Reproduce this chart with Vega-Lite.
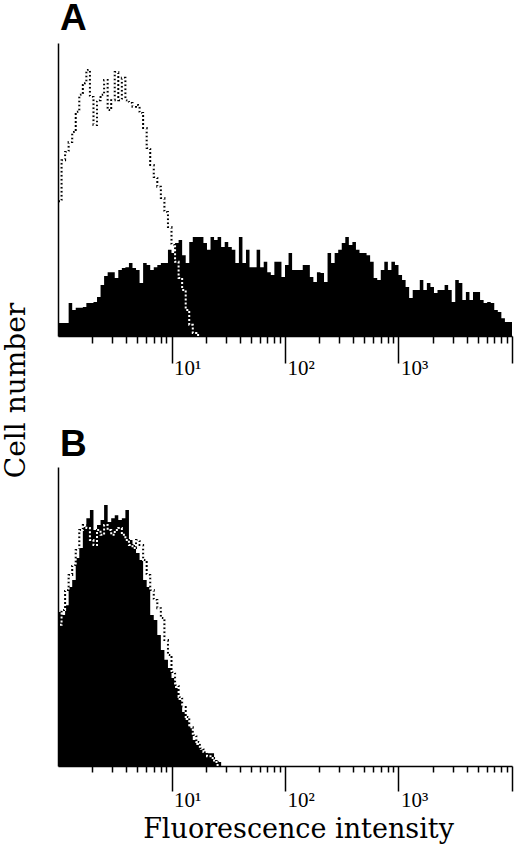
{
  "$schema": "https://vega.github.io/schema/vega-lite/v6.json",
  "background": "white",
  "padding": {"left": 2, "top": 0, "right": 8, "bottom": 10},
  "bounds": "flush",
  "spacing": 131,
  "config": {
    "view": {"stroke": null},
    "axis": {"domainColor": "black", "domainWidth": 1.5, "tickColor": "black", "tickWidth": 1.5, "grid": false, "labelColor": "black", "titleColor": "black"}
  },
  "datasets": {
    "aF": [
      {"x":1,"y":4.4},{"x":1.075,"y":4.4},{"x":1.155,"y":4.4},{"x":1.241,"y":11.3},{"x":1.334,"y":8.9},{"x":1.433,"y":9.6},{"x":1.54,"y":9.6},{"x":1.655,"y":9.9},
      {"x":1.778,"y":11.3},{"x":1.911,"y":11.3},{"x":2.054,"y":11.6},{"x":2.207,"y":13.3},{"x":2.371,"y":17.4},{"x":2.548,"y":20.5},{"x":2.738,"y":21.8},{"x":2.943,"y":21.8},
      {"x":3.162,"y":19.8},{"x":3.398,"y":22.5},{"x":3.652,"y":23.2},{"x":3.924,"y":23.5},{"x":4.217,"y":24.9},{"x":4.532,"y":23.2},{"x":4.87,"y":22.5},{"x":5.233,"y":18.1},
      {"x":5.623,"y":24.9},{"x":6.043,"y":24.2},{"x":6.494,"y":22.5},{"x":6.978,"y":23.5},{"x":7.499,"y":24.2},{"x":8.058,"y":24.9},{"x":8.66,"y":24.9},{"x":9.306,"y":29.4},
      {"x":10,"y":28.3},{"x":10.75,"y":31.7},{"x":11.55,"y":32.8},{"x":12.41,"y":27.6},{"x":13.34,"y":24.9},{"x":14.33,"y":32.1},{"x":15.4,"y":33.8},{"x":16.55,"y":33.8},
      {"x":17.78,"y":33.8},{"x":19.11,"y":31.7},{"x":20.54,"y":29.4},{"x":22.07,"y":33.8},{"x":23.71,"y":32.8},{"x":25.48,"y":33.8},{"x":27.38,"y":30.4},{"x":29.43,"y":32.1},
      {"x":31.62,"y":30.4},{"x":33.98,"y":29.4},{"x":36.52,"y":24.9},{"x":39.24,"y":33.8},{"x":42.17,"y":24.9},{"x":45.32,"y":29.4},{"x":48.7,"y":23.5},{"x":52.33,"y":23.5},
      {"x":56.23,"y":29.4},{"x":60.43,"y":23.5},{"x":64.94,"y":25.3},{"x":69.78,"y":21.8},{"x":74.99,"y":20.8},{"x":80.58,"y":25.3},{"x":86.6,"y":25.3},{"x":93.06,"y":20.1},
      {"x":100,"y":24.2},{"x":107.5,"y":28.3},{"x":115.5,"y":22.5},{"x":124.1,"y":22.5},{"x":133.4,"y":22.5},{"x":143.3,"y":24.2},{"x":154,"y":24.2},{"x":165.5,"y":20.1},
      {"x":177.8,"y":18.4},{"x":191.1,"y":21.8},{"x":205.4,"y":21.5},{"x":220.7,"y":18.4},{"x":237.1,"y":28.3},{"x":254.8,"y":24.9},{"x":273.8,"y":28.3},{"x":294.3,"y":29.4},
      {"x":316.2,"y":31.7},{"x":339.8,"y":33.8},{"x":365.2,"y":31.1},{"x":392.4,"y":32.1},{"x":421.7,"y":29.4},{"x":453.2,"y":28.3},{"x":487,"y":28.3},{"x":523.3,"y":27.6},
      {"x":562.3,"y":25.3},{"x":604.3,"y":19.8},{"x":649.4,"y":19.1},{"x":697.8,"y":22.5},{"x":749.9,"y":25.3},{"x":805.8,"y":22.5},{"x":866,"y":25.3},{"x":930.6,"y":24.2},
      {"x":1000,"y":20.8},{"x":1075,"y":19.1},{"x":1155,"y":16.7},{"x":1241,"y":13.0},{"x":1334,"y":15.7},{"x":1433,"y":15.7},{"x":1540,"y":19.1},{"x":1655,"y":15.7},
      {"x":1778,"y":18.1},{"x":1911,"y":16.7},{"x":2054,"y":14.7},{"x":2207,"y":15.7},{"x":2371,"y":15.7},{"x":2548,"y":17.4},{"x":2738,"y":15.7},{"x":2943,"y":11.6},
      {"x":3162,"y":19.1},{"x":3398,"y":18.1},{"x":3652,"y":12.3},{"x":3924,"y":15.0},{"x":4217,"y":12.3},{"x":4532,"y":15.0},{"x":4870,"y":15.0},{"x":5233,"y":12.3},
      {"x":5623,"y":11.3},{"x":6043,"y":11.6},{"x":6494,"y":11.3},{"x":6978,"y":8.9},{"x":7499,"y":8.2},{"x":8058,"y":6.1},{"x":8660,"y":4.8},{"x":9306,"y":4.8},
      {"x":10000,"y":0}
    ],
    "aC": [
      {"x":1,"y":46},{"x":1.075,"y":60},{"x":1.155,"y":62.8},{"x":1.241,"y":66.2},{"x":1.334,"y":69.6},{"x":1.433,"y":76.5},{"x":1.54,"y":82.3},{"x":1.655,"y":86.3},
      {"x":1.778,"y":90.8},{"x":1.911,"y":81.6},{"x":2.054,"y":72.0},{"x":2.207,"y":80.5},{"x":2.371,"y":82.3},{"x":2.548,"y":87.4},{"x":2.738,"y":77.1},{"x":2.943,"y":80.5},
      {"x":3.162,"y":90.1},{"x":3.398,"y":80.5},{"x":3.652,"y":88.1},{"x":3.924,"y":80.5},{"x":4.217,"y":79.5},{"x":4.532,"y":78.2},{"x":4.87,"y":78.8},{"x":5.233,"y":76.1},
      {"x":5.623,"y":71.0},{"x":6.043,"y":64.2},{"x":6.494,"y":58.4},{"x":6.978,"y":54.3},{"x":7.499,"y":50.9},{"x":8.058,"y":47.1},{"x":8.66,"y":42.3},{"x":9.306,"y":37.2},
      {"x":10,"y":31.1},{"x":10.75,"y":25.3},{"x":11.55,"y":19.8},{"x":12.41,"y":15.7},{"x":13.34,"y":8.9},{"x":14.33,"y":3.8},{"x":15.4,"y":1.0},{"x":16.55,"y":0.3},
      {"x":17.78,"y":0}
    ],
    "bF": [
      {"x":1,"y":51.5},{"x":1.075,"y":50.5},{"x":1.155,"y":53.8},{"x":1.241,"y":59.9},{"x":1.334,"y":62.2},{"x":1.433,"y":69.6},{"x":1.54,"y":72.9},{"x":1.655,"y":79.9},
      {"x":1.778,"y":82.9},{"x":1.911,"y":85.6},{"x":2.054,"y":78.9},{"x":2.207,"y":80.6},{"x":2.371,"y":82.3},{"x":2.548,"y":87.3},{"x":2.738,"y":81.6},{"x":2.943,"y":82.9},
      {"x":3.162,"y":83.9},{"x":3.398,"y":82.3},{"x":3.652,"y":82.9},{"x":3.924,"y":85.6},{"x":4.217,"y":75.6},{"x":4.532,"y":73.9},{"x":4.87,"y":71.2},{"x":5.233,"y":68.9},
      {"x":5.623,"y":62.2},{"x":6.043,"y":59.9},{"x":6.494,"y":50.5},{"x":6.978,"y":48.8},{"x":7.499,"y":43.8},{"x":8.058,"y":38.8},{"x":8.66,"y":35.5},{"x":9.306,"y":32.8},
      {"x":10,"y":29.4},{"x":10.75,"y":26.1},{"x":11.55,"y":22.1},{"x":12.41,"y":18.1},{"x":13.34,"y":15.4},{"x":14.33,"y":13.0},{"x":15.4,"y":8.7},{"x":16.55,"y":7.0},
      {"x":17.78,"y":5.4},{"x":19.11,"y":4.7},{"x":20.54,"y":4.3},{"x":22.07,"y":4.3},{"x":23.71,"y":2.0},{"x":25.48,"y":1.3},{"x":27.38,"y":0}
    ],
    "bC": [
      {"x":1,"y":47.2},{"x":1.075,"y":52.2},{"x":1.155,"y":58.9},{"x":1.241,"y":63.9},{"x":1.334,"y":67.2},{"x":1.433,"y":72.2},{"x":1.54,"y":78.9},{"x":1.655,"y":80.6},
      {"x":1.778,"y":79.6},{"x":1.911,"y":75.6},{"x":2.054,"y":73.9},{"x":2.207,"y":78.9},{"x":2.371,"y":77.3},{"x":2.548,"y":80.6},{"x":2.738,"y":78.9},{"x":2.943,"y":77.3},
      {"x":3.162,"y":78.9},{"x":3.398,"y":79.6},{"x":3.652,"y":77.3},{"x":3.924,"y":75.6},{"x":4.217,"y":73.9},{"x":4.532,"y":72.9},{"x":4.87,"y":75.6},{"x":5.233,"y":73.9},
      {"x":5.623,"y":68.9},{"x":6.043,"y":63.9},{"x":6.494,"y":58.9},{"x":6.978,"y":55.5},{"x":7.499,"y":52.8},{"x":8.058,"y":49.5},{"x":8.66,"y":42.1},{"x":9.306,"y":37.1},
      {"x":10,"y":31.4},{"x":10.75,"y":27.1},{"x":11.55,"y":23.1},{"x":12.41,"y":19.7},{"x":13.34,"y":16.4},{"x":14.33,"y":13.0},{"x":15.4,"y":10.4},{"x":16.55,"y":8.0},
      {"x":17.78,"y":6.0},{"x":19.11,"y":4.7},{"x":20.54,"y":3.3},{"x":22.07,"y":2.7},{"x":23.71,"y":1.3},{"x":25.48,"y":0}
    ]
  },
  "vconcat": [
    {
      "width": 454,
      "height": 293,
      "title": {"text": "A", "anchor": "start", "frame": "group", "font": "Liberation Sans", "fontSize": 37, "fontWeight": "bold", "color": "black", "offset": -24, "baseline": "alphabetic", "dx": 2},
      "encoding": {
        "x": {"field": "x", "type": "quantitative", "scale": {"type": "log", "domain": [1, 10000], "nice": false},
          "axis": {"values": [2,3,4,5,6,7,8,9,10,20,30,40,50,60,70,80,90,100,200,300,400,500,600,700,800,900,1000,2000,3000,4000,5000,6000,7000,8000,9000,10000],
            "tickSize": {"condition": {"test": "datum.value==10||datum.value==100||datum.value==1000||datum.value==10000", "value": 27}, "value": 7},
            "labelExpr": "datum.value==10?'10¹':datum.value==100?'10²':datum.value==1000?'10³':''",
            "labelAlign": "left", "labelBaseline": "alphabetic", "labelPadding": 11, "labelOffset": 2,
            "labelFont": "Liberation Serif", "labelFontSize": 21, "labelOverlap": false, "labelFlush": false, "labelBound": false,
            "title": null}},
        "y": {"field": "y", "type": "quantitative", "scale": {"domain": [0, 100], "nice": false},
          "axis": {"ticks": false, "labels": false, "grid": false, "title": "Cell number", "titleFont": "DejaVu Serif", "titleFontSize": 28, "titleFontWeight": "normal",
            "titleX": -42, "titleY": 347, "titleAngle": 270, "titleAlign": "center", "titleBaseline": "middle"}}
      },
      "layer": [
        {"data": {"name": "aF"}, "mark": {"type": "area", "interpolate": "step-after", "color": "black"}},
        {"data": {"name": "aC"}, "mark": {"type": "line", "interpolate": "step-after", "color": "black", "strokeWidth": 2, "strokeDash": [2, 2]}},
        {"data": {"name": "aC"}, "mark": {"type": "line", "interpolate": "step-after", "color": "white", "strokeWidth": 2, "strokeDash": [2, 2], "strokeDashOffset": 2}}
      ]
    },
    {
      "width": 454,
      "height": 299,
      "title": {"text": "B", "anchor": "start", "frame": "group", "font": "Liberation Sans", "fontSize": 37, "fontWeight": "bold", "color": "black", "offset": -26, "baseline": "alphabetic", "dx": 2},
      "encoding": {
        "x": {"field": "x", "type": "quantitative", "scale": {"type": "log", "domain": [1, 10000], "nice": false},
          "axis": {"values": [2,3,4,5,6,7,8,9,10,20,30,40,50,60,70,80,90,100,200,300,400,500,600,700,800,900,1000,2000,3000,4000,5000,6000,7000,8000,9000,10000],
            "tickSize": {"condition": {"test": "datum.value==10||datum.value==100||datum.value==1000||datum.value==10000", "value": 25}, "value": 6},
            "labelExpr": "datum.value==10?'10¹':datum.value==100?'10²':datum.value==1000?'10³':''",
            "labelAlign": "left", "labelBaseline": "alphabetic", "labelPadding": 15, "labelOffset": 2,
            "labelFont": "Liberation Serif", "labelFontSize": 21, "labelOverlap": false, "labelFlush": false, "labelBound": false,
            "title": "Fluorescence intensity", "titleFont": "DejaVu Serif", "titleFontSize": 27, "titleFontWeight": "normal",
            "titleX": 240, "titleY": 71, "titleAlign": "center", "titleBaseline": "alphabetic", "titleAngle": 0}},
        "y": {"field": "y", "type": "quantitative", "scale": {"domain": [0, 100], "nice": false},
          "axis": {"ticks": false, "labels": false, "grid": false, "title": null}}
      },
      "layer": [
        {"data": {"name": "bF"}, "mark": {"type": "area", "interpolate": "step-after", "color": "black"}},
        {"data": {"name": "bC"}, "mark": {"type": "line", "interpolate": "step-after", "color": "black", "strokeWidth": 2, "strokeDash": [2, 2]}},
        {"data": {"name": "bC"}, "mark": {"type": "line", "interpolate": "step-after", "color": "white", "strokeWidth": 2, "strokeDash": [2, 2], "strokeDashOffset": 2}}
      ]
    }
  ]
}
